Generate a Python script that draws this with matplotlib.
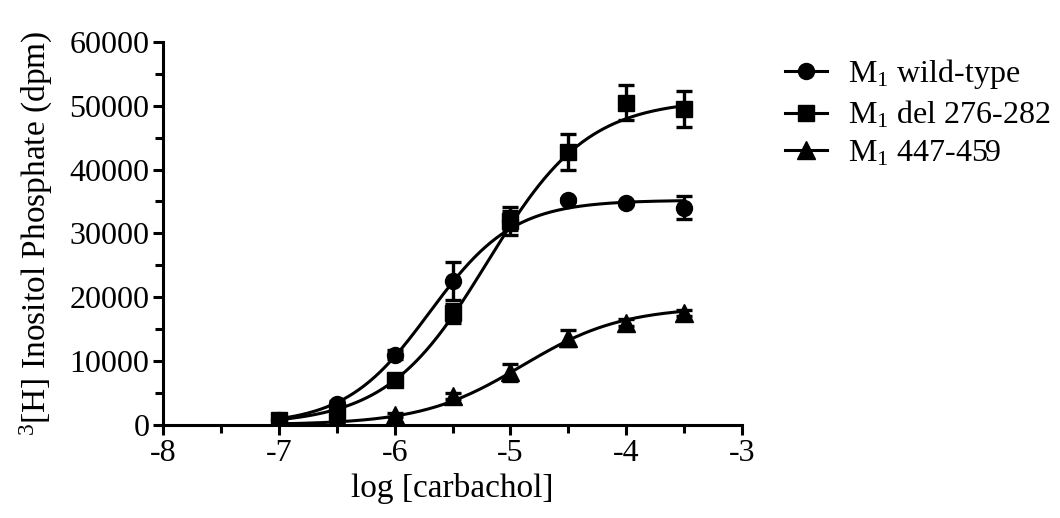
import numpy as np
import matplotlib
matplotlib.use("Agg")
import matplotlib.pyplot as plt
from matplotlib.ticker import MultipleLocator

plt.rcParams['font.family'] = ['Liberation Serif', 'DejaVu Serif']
plt.rcParams['mathtext.fontset'] = 'custom'
plt.rcParams['mathtext.rm'] = 'Liberation Serif'
plt.rcParams['mathtext.it'] = 'Liberation Serif:italic'

log_conc = [-7, -6.5, -6, -5.5, -5, -4.5, -4, -3.5]

wt_mean = [800, 3300, 11000, 22500, 32000, 35200, 34800, 34000]
wt_err = [300, 500, 700, 3000, 1500, 300, 300, 1800]

del_mean = [700, 2000, 7000, 17500, 32000, 42800, 50500, 49500]
del_err = [300, 400, 500, 1500, 2200, 2800, 2800, 2800]

tri_mean = [100, 300, 1500, 4500, 8200, 13600, 16000, 17500]
tri_err = [100, 200, 300, 500, 1300, 1300, 500, 500]

# Sigmoidal fit parameters (top, logEC50, Hill slope)
wt_fit = (35200, -5.7, 1.2)
del_fit = (51000, -5.2, 1.0)
tri_fit = (18500, -4.9, 1.0)

labels = ["M$_1$ wild-type", "M$_1$ del 276-282", "M$_1$ 447-459"]
markers = ["o", "s", "^"]

fig = plt.figure(figsize=(10.6, 5.18), dpi=100)
ax = fig.add_axes([0.154, 0.180, 0.546, 0.739])

xs = np.linspace(-7, -3.5, 300)
handles = []
for mean, err, fit, lab, mk in zip([wt_mean, del_mean, tri_mean],
                                    [wt_err, del_err, tri_err],
                                    [wt_fit, del_fit, tri_fit], labels, markers):
    top, ec, h = fit
    ys = top / (1 + 10 ** ((ec - xs) * h))
    ax.plot(xs, ys, color='black', lw=2.2, zorder=2)
    ax.errorbar(log_conc, mean, yerr=err, fmt='none', ecolor='black',
                elinewidth=2.4, capsize=6, capthick=2.4, zorder=3)
    ms = 12.5 if mk == "^" else 11.5
    ax.plot(log_conc, mean, linestyle='none', marker=mk, color='black',
            markersize=ms, zorder=4)
    hl, = ax.plot([], [], color='black', lw=2.2, marker=mk, markersize=ms)
    handles.append(hl)

ax.set_xlim(-8, -3)
ax.set_ylim(0, 60000)
ax.xaxis.set_major_locator(MultipleLocator(1))
ax.xaxis.set_minor_locator(MultipleLocator(0.5))
ax.yaxis.set_major_locator(MultipleLocator(10000))
ax.yaxis.set_minor_locator(MultipleLocator(5000))
ax.spines['top'].set_visible(False)
ax.spines['right'].set_visible(False)
for s in ['left', 'bottom']:
    ax.spines[s].set_linewidth(2.2)
ax.tick_params(which='major', direction='out', length=7, width=2.2, labelsize=23, pad=3)
ax.tick_params(which='minor', direction='out', length=6, width=2.2)
ax.set_xticks([-8, -7, -6, -5, -4, -3])
ax.set_xticklabels(['-8', '-7', '-6', '-5', '-4', '-3'])
ax.set_xlabel('log [carbachol]', fontsize=24, labelpad=4)
ax.set_ylabel('$^3$[H] Inositol Phosphate (dpm)', fontsize=24, labelpad=10)

fig.legend(handles, labels, loc='upper left', bbox_to_anchor=(0.741, 0.889),
           frameon=False, fontsize=23, handlelength=1.3, handletextpad=0.65,
           labelspacing=0.25, borderpad=0, borderaxespad=0)

fig.savefig('out.png', dpi=100)
